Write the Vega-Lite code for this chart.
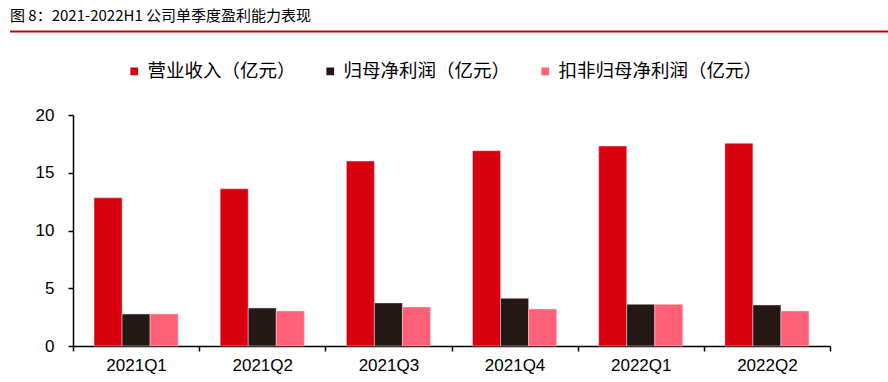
{
  "$schema": "https://vega.github.io/schema/vega-lite/v6.json",
  "background": "white",
  "width": 757,
  "height": 231,
  "autosize": {"type": "none"},
  "padding": {"left": 73, "top": 115, "right": 58, "bottom": 36},
  "config": {
    "view": {"stroke": null},
    "font": "Liberation Sans, Noto Sans CJK SC, sans-serif"
  },
  "title": {
    "text": "图 8：2021-2022H1 公司单季度盈利能力表现",
    "anchor": "start",
    "frame": "group",
    "dx": -63,
    "font": "Liberation Sans Narrow, Noto Sans CJK SC, sans-serif",
    "fontSize": 15,
    "fontWeight": "normal",
    "color": "#000000",
    "offset": 6
  },
  "layer": [
    {
      "data": {
        "values": [
          {"quarter": "2021Q1", "series": "营业收入（亿元）", "value": 12.83},
          {"quarter": "2021Q1", "series": "归母净利润（亿元）", "value": 2.77},
          {"quarter": "2021Q1", "series": "扣非归母净利润（亿元）", "value": 2.77},
          {"quarter": "2021Q2", "series": "营业收入（亿元）", "value": 13.61},
          {"quarter": "2021Q2", "series": "归母净利润（亿元）", "value": 3.29},
          {"quarter": "2021Q2", "series": "扣非归母净利润（亿元）", "value": 3.03},
          {"quarter": "2021Q3", "series": "营业收入（亿元）", "value": 16.01},
          {"quarter": "2021Q3", "series": "归母净利润（亿元）", "value": 3.73},
          {"quarter": "2021Q3", "series": "扣非归母净利润（亿元）", "value": 3.38},
          {"quarter": "2021Q4", "series": "营业收入（亿元）", "value": 16.91},
          {"quarter": "2021Q4", "series": "归母净利润（亿元）", "value": 4.13},
          {"quarter": "2021Q4", "series": "扣非归母净利润（亿元）", "value": 3.2},
          {"quarter": "2022Q1", "series": "营业收入（亿元）", "value": 17.31},
          {"quarter": "2022Q1", "series": "归母净利润（亿元）", "value": 3.61},
          {"quarter": "2022Q1", "series": "扣非归母净利润（亿元）", "value": 3.61},
          {"quarter": "2022Q2", "series": "营业收入（亿元）", "value": 17.55},
          {"quarter": "2022Q2", "series": "归母净利润（亿元）", "value": 3.55},
          {"quarter": "2022Q2", "series": "扣非归母净利润（亿元）", "value": 3.03}
        ]
      },
      "mark": {"type": "bar", "stroke": "#ffd6dc", "strokeWidth": 0.5},
      "encoding": {
        "x": {
          "field": "quarter",
          "type": "nominal",
          "scale": {"paddingInner": 0, "paddingOuter": 0},
          "axis": {
            "title": null,
            "labelAngle": 0,
            "tickBand": "extent",
            "domainColor": "#000000",
            "domainWidth": 1.5,
            "tickColor": "#000000",
            "tickWidth": 1.5,
            "tickSize": 5,
            "labelFontSize": 17,
            "labelColor": "#000000",
            "labelPadding": 6
          }
        },
        "xOffset": {
          "field": "series",
          "type": "nominal",
          "sort": ["营业收入（亿元）", "归母净利润（亿元）", "扣非归母净利润（亿元）"],
          "scale": {"paddingInner": 0, "paddingOuter": 0.75}
        },
        "y": {
          "field": "value",
          "type": "quantitative",
          "scale": {"domain": [0, 20]},
          "axis": {
            "title": null,
            "values": [0, 5, 10, 15, 20],
            "grid": false,
            "domainColor": "#000000",
            "domainWidth": 1.5,
            "tickColor": "#000000",
            "tickWidth": 1.5,
            "tickSize": 5,
            "labelFontSize": 17,
            "labelColor": "#000000",
            "labelPadding": 14
          }
        },
        "color": {
          "field": "series",
          "type": "nominal",
          "scale": {
            "domain": ["营业收入（亿元）", "归母净利润（亿元）", "扣非归母净利润（亿元）"],
            "range": ["#D7000F", "#231815", "#FF6178"]
          },
          "legend": {
            "title": null,
            "orient": "none",
            "direction": "horizontal",
            "legendX": 52,
            "legendY": -53,
            "padding": 0,
            "symbolType": "square",
            "symbolSize": 60,
            "symbolStrokeWidth": 0,
            "labelFontSize": 18.5,
            "labelColor": "#000000",
            "labelOffset": 4,
            "columnPadding": 25,
            "labelLimit": 300
          }
        }
      }
    },
    {
      "data": {"values": [{"line": "header"}]},
      "mark": {"type": "rule", "color": "#C00000", "strokeWidth": 2},
      "encoding": {
        "x": {"datum": -0.0832, "type": "quantitative", "scale": {"domain": [0, 1]}, "axis": null},
        "x2": {"datum": 1.0766},
        "y": {"datum": 27.23, "type": "quantitative"}
      }
    }
  ],
  "resolve": {"scale": {"x": "independent"}, "axis": {"x": "independent"}}
}
